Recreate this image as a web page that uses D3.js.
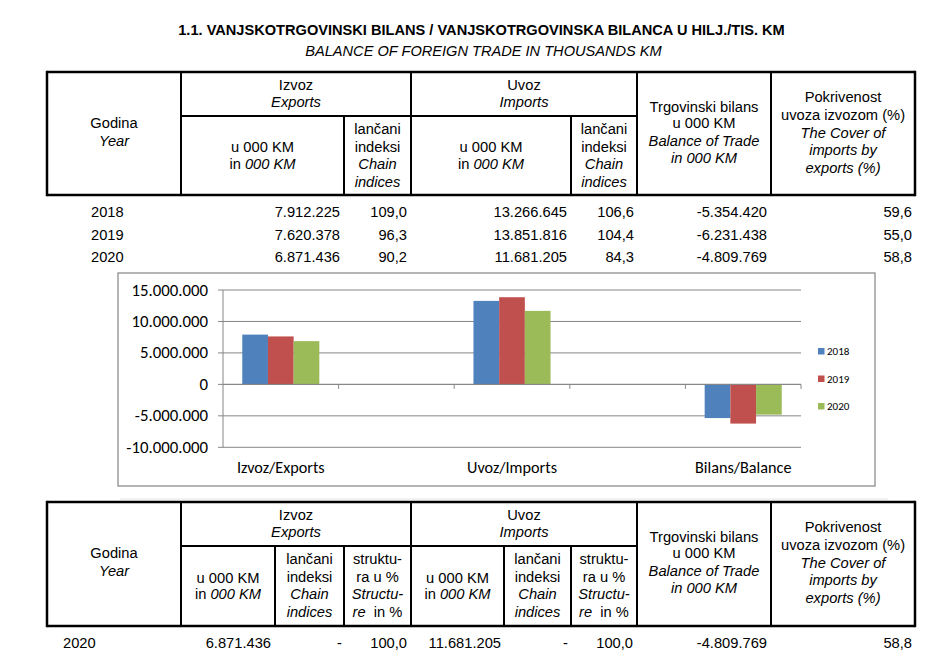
<!DOCTYPE html>
<html><head><meta charset="utf-8">
<script src="https://cdn.jsdelivr.net/npm/d3@7"></script>
<style>html,body{margin:0;padding:0;background:#fff;} svg{display:block;} text{white-space:pre;}</style>
</head><body>
<svg id="page" width="952" height="655"></svg>
<script>
// ---------------- DATA ----------------
const years = ["2018", "2019", "2020"];
const categories = ["Izvoz/Exports", "Uvoz/Imports", "Bilans/Balance"];
const exportsK = [7912225, 7620378, 6871436];
const exportsIdx = [109.0, 96.3, 90.2];
const importsK = [13266645, 13851816, 11681205];
const importsIdx = [106.6, 104.4, 84.3];
const balanceK = [-5354420, -6231438, -4809769];
const coverPct = [59.6, 55.0, 58.8];
const yTicks = [-10000000, -5000000, 0, 5000000, 10000000, 15000000];
const seriesColors = ["#4F81BD", "#C0504D", "#9BBB59"];
// structure table (2020)
const structYear = ["2020"];
const structExportsK = [6871436];
const structExportsIdx = ["-"];
const structExportsPct = [100.0];
const structImportsK = [11681205];
const structImportsIdx = ["-"];
const structImportsPct = [100.0];
const structBalanceK = [-4809769];
const structCover = [58.8];

// ---------------- HELPERS ----------------
const loc = d3.formatLocale({decimal: ",", thousands: ".", grouping: [3], currency: ["", ""], minus: "-"});
const fInt = loc.format(",d");
const f1 = loc.format(",.1f");
const svg = d3.select("#page");
const TF = "'Liberation Sans', Arial, Helvetica, sans-serif";
const CF = "Carlito, Calibri, Lato, sans-serif";

function label(g, x, y, parts, anchor = "middle", size = 14.7, family = TF, weight = "normal") {
  const t = g.append("text").attr("x", x).attr("y", y).attr("text-anchor", anchor)
    .style("font-family", family).style("font-size", size + "px").style("font-weight", weight).attr("fill", "#000");
  (Array.isArray(parts) ? parts : [parts]).forEach(p => {
    const s = typeof p === "string" ? {t: p, i: false} : p;
    t.append("tspan").text(s.t).style("font-style", s.i ? "italic" : "normal");
  });
  return t;
}
function line(g, x1, y1, x2, y2, w = 2, c = "#000") {
  g.append("line").attr("x1", x1).attr("y1", y1).attr("x2", x2).attr("y2", y2)
    .attr("stroke", c).attr("stroke-width", w);
}

// ---------------- TITLE ----------------
label(svg, 481.5, 35, "1.1. VANJSKOTRGOVINSKI BILANS / VANJSKOTRGOVINSKA BILANCA U HILJ./TIS. KM", "middle", 14.6, TF, "bold");
label(svg, 483.5, 56, [{t: "BALANCE OF FOREIGN TRADE IN THOUSANDS KM", i: true}], "middle", 14.6);

// ---------------- TOP TABLE ----------------
(function () {
  const g = svg.append("g");
  const L = 47, R = 915, T = 72, M = 116, B = 195;
  const c1 = 181, c2 = 344, c3 = 411, c4 = 571, c5 = 637, c6 = 771;
  line(g, L, T, R, T, 2.5); line(g, L, B, R, B, 2.5);
  line(g, L, T - 1.2, L, B + 1.2, 2.5); line(g, R, T - 1.2, R, B + 1.2, 2.5);
  line(g, c1, M, c5, M);
  [c1, c3, c5, c6].forEach(x => line(g, x, T, x, B));
  [c2, c4].forEach(x => line(g, x, M, x, B));

  label(g, (c1 + c3) / 2, 90, "Izvoz"); label(g, (c1 + c3) / 2, 107, [{t: "Exports", i: true}]);
  label(g, (c3 + c5) / 2, 90, "Uvoz"); label(g, (c3 + c5) / 2, 107, [{t: "Imports", i: true}]);
  label(g, (L + c1) / 2, 128, "Godina"); label(g, (L + c1) / 2, 146, [{t: "Year", i: true}]);
  [[c1, c2], [c3, c4]].forEach(([a, b]) => {
    label(g, (a + b) / 2, 152, "u 000 KM");
    label(g, (a + b) / 2, 169, ["in ", {t: "000 KM", i: true}]);
  });
  [[c2, c3], [c4, c5]].forEach(([a, b]) => {
    const x = (a + b) / 2;
    label(g, x, 134, "lančani"); label(g, x, 152, "indeksi");
    label(g, x, 169, [{t: "Chain", i: true}]); label(g, x, 187, [{t: "indices", i: true}]);
  });
  const xb = (c5 + c6) / 2;
  label(g, xb, 112, "Trgovinski bilans"); label(g, xb, 128, "u 000 KM");
  label(g, xb, 146, [{t: "Balance of Trade", i: true}]); label(g, xb, 163, [{t: "in 000 KM", i: true}]);
  const xc = (c6 + R) / 2;
  label(g, xc, 102, "Pokrivenost"); label(g, xc, 120, "uvoza izvozom (%)");
  label(g, xc, 138, [{t: "The Cover of", i: true}]); label(g, xc, 155, [{t: "imports by", i: true}]);
  label(g, xc, 173, [{t: "exports (%)", i: true}]);

  const rowY = d3.scalePoint().domain(years).range([217, 262]);
  years.forEach((yr, i) => {
    const y = rowY(yr);
    label(g, 91, y, yr, "start");
    label(g, 340, y, fInt(exportsK[i]), "end");
    label(g, 407, y, f1(exportsIdx[i]), "end");
    label(g, 567, y, fInt(importsK[i]), "end");
    label(g, 634, y, f1(importsIdx[i]), "end");
    label(g, 767, y, fInt(balanceK[i]), "end");
    label(g, 912, y, f1(coverPct[i]), "end");
  });
})();

// ---------------- CHART ----------------
(function () {
  const g = svg.append("g");
  g.append("rect").attr("x", 118).attr("y", 273).attr("width", 757).attr("height", 213)
    .attr("fill", "#fff").attr("stroke", "#8e8e8e").attr("stroke-width", 1.3);
  line(g, 120, 499, 888, 499, 1, "#e6e6e6");

  const px0 = 223, px1 = 801;
  const y = d3.scaleLinear().domain([yTicks[0], yTicks[yTicks.length - 1]]).range([447.3, 290]);
  const slots = categories.flatMap((c, i) => i < categories.length - 1 ? [c, "gap" + i] : [c]);
  const x = d3.scaleBand().domain(slots).range([px0, px1]).padding(0);
  const xi = d3.scaleBand().domain(years).range([0, x.bandwidth()]).paddingInner(0).paddingOuter(0.75);

  // gridlines
  yTicks.forEach(t => line(g, px0 - 5, y(t), px1, y(t), 1, "#868686"));
  // y axis
  line(g, px0, y(yTicks[0]), px0, y(yTicks[yTicks.length - 1]), 1, "#868686");
  // x tick marks at slot boundaries
  slots.forEach(s => line(g, x(s) + x.step(), y(0), x(s) + x.step(), y(0) + 4.5, 1, "#868686"));

  // y labels
  yTicks.forEach(t => label(g, 208, y(t) + 5.5, fInt(t), "end", 16.8, CF));
  // category labels
  categories.forEach(c => label(g, x(c) + x.bandwidth() / 2, 472.5, c, "middle", 16.2, CF));

  // bars
  const series = years.map((yr, i) => ({year: yr, vals: [exportsK[i], importsK[i], balanceK[i]]}));
  series.forEach((s, si) => {
    g.selectAll(null).data(s.vals).enter().append("rect")
      .attr("x", (v, ci) => x(categories[ci]) + xi(s.year))
      .attr("width", xi.bandwidth())
      .attr("y", v => Math.min(y(v), y(0)))
      .attr("height", v => Math.abs(y(v) - y(0)))
      .attr("fill", seriesColors[si]);
  });
  // redraw zero line over bars
  line(g, px0, y(0), px1, y(0), 1, "#868686");

  // legend
  const ly = d3.scalePoint().domain(years).range([351, 406]);
  years.forEach((yr, i) => {
    g.append("rect").attr("x", 818).attr("y", ly(yr) - 3).attr("width", 6.5).attr("height", 6.5).attr("fill", seriesColors[i]);
    label(g, 827, ly(yr) + 4, yr, "start", 11, CF);
  });
})();

// ---------------- BOTTOM TABLE ----------------
(function () {
  const g = svg.append("g");
  const L = 47, R = 915, T = 502, M = 546, B = 626;
  const c1 = 181, c1b = 275, c2 = 344, c3 = 411, c3b = 504, c4 = 571, c5 = 637, c6 = 771;
  const off = 430;
  line(g, L, T, R, T, 2.5); line(g, L, B, R, B, 2.5);
  line(g, L, T - 1.2, L, B + 1.2, 2.5); line(g, R, T - 1.2, R, B + 1.2, 2.5);
  line(g, c1, M, c5, M);
  [c1, c3, c5, c6].forEach(xx => line(g, xx, T, xx, B));
  [c1b, c2, c3b, c4].forEach(xx => line(g, xx, M, xx, B));

  label(g, (c1 + c3) / 2, 90 + off, "Izvoz"); label(g, (c1 + c3) / 2, 107 + off, [{t: "Exports", i: true}]);
  label(g, (c3 + c5) / 2, 90 + off, "Uvoz"); label(g, (c3 + c5) / 2, 107 + off, [{t: "Imports", i: true}]);
  label(g, (L + c1) / 2, 128 + off, "Godina"); label(g, (L + c1) / 2, 146 + off, [{t: "Year", i: true}]);
  [[c1, c1b], [c3, c3b]].forEach(([a, b]) => {
    label(g, (a + b) / 2, 583, "u 000 KM");
    label(g, (a + b) / 2, 599, ["in ", {t: "000 KM", i: true}]);
  });
  [[c1b, c2], [c3b, c4]].forEach(([a, b]) => {
    const xx = (a + b) / 2;
    label(g, xx, 564, "lančani"); label(g, xx, 582, "indeksi");
    label(g, xx, 599, [{t: "Chain", i: true}]); label(g, xx, 617, [{t: "indices", i: true}]);
  });
  [[c2, c3], [c4, c5]].forEach(([a, b]) => {
    const xx = (a + b) / 2;
    label(g, xx, 564, "struktu-"); label(g, xx, 582, "ra u %");
    label(g, xx, 599, [{t: "Structu-", i: true}]); label(g, xx, 617, [{t: "re", i: true}, "  in %"]);
  });
  const xb = (c5 + c6) / 2;
  label(g, xb, 112 + off, "Trgovinski bilans"); label(g, xb, 128 + off, "u 000 KM");
  label(g, xb, 146 + off, [{t: "Balance of Trade", i: true}]); label(g, xb, 163 + off, [{t: "in 000 KM", i: true}]);
  const xc = (c6 + R) / 2;
  label(g, xc, 102 + off, "Pokrivenost"); label(g, xc, 120 + off, "uvoza izvozom (%)");
  label(g, xc, 138 + off, [{t: "The Cover of", i: true}]); label(g, xc, 155 + off, [{t: "imports by", i: true}]);
  label(g, xc, 173 + off, [{t: "exports (%)", i: true}]);

  structYear.forEach((yr, i) => {
    const y = 648;
    label(g, 63, y, yr, "start");
    label(g, 271, y, fInt(structExportsK[i]), "end");
    label(g, 342, y, structExportsIdx[i], "end");
    label(g, 407, y, f1(structExportsPct[i]), "end");
    label(g, 501, y, fInt(structImportsK[i]), "end");
    label(g, 568, y, structImportsIdx[i], "end");
    label(g, 633, y, f1(structImportsPct[i]), "end");
    label(g, 767, y, fInt(structBalanceK[i]), "end");
    label(g, 912, y, f1(structCover[i]), "end");
  });
})();
</script></body></html>
